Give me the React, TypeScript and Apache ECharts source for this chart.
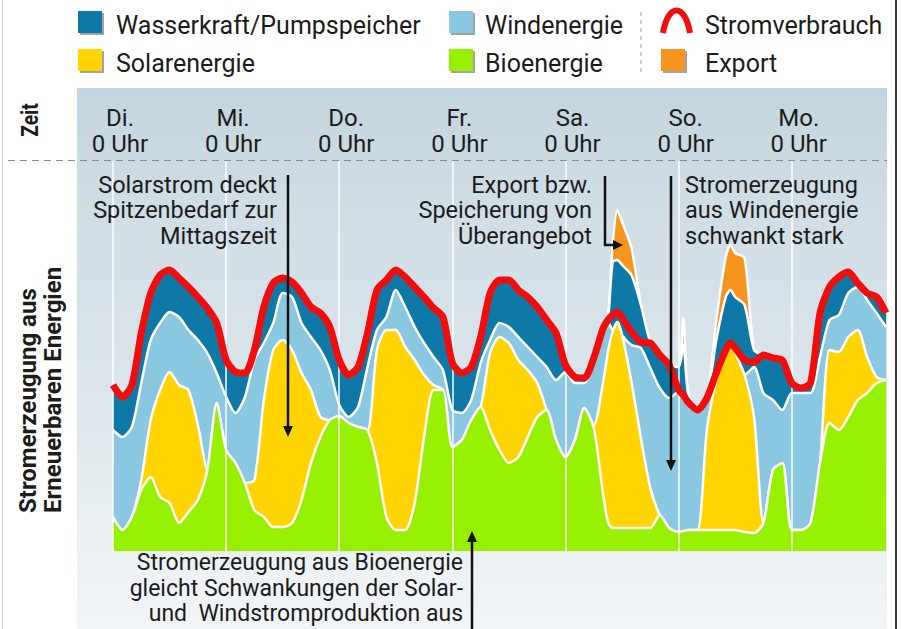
import React, { useEffect, useRef } from "react";
import * as echarts from "echarts";

// ---- data (hours since Tuesday 0:00; values in GW-like units) ----
const hours = [
  0, 2, 4, 6, 8, 10, 12, 14, 16, 18, 20, 22, 24, 26, 28, 30, 32, 34, 36, 38, 40, 42, 44, 46, 48, 50,
  52, 54, 56, 58, 60, 62, 64, 66, 68, 70, 72, 74, 76, 78, 80, 82, 84, 86, 88, 90, 92, 94, 96, 98, 100,
  102, 104, 105, 106, 107, 108, 110, 112, 114, 116, 118, 120, 121, 122, 124, 126, 128, 130, 131, 132,
  134, 136, 138, 140, 142, 144, 146, 148, 150, 152, 154, 156, 158, 160, 162, 164,
];

const bio = [
  6.8, 4.2, 6.8, 12.2, 14.8, 10.8, 9.6, 5.6, 7.8, 10.2, 16.2, 29.6, 20.2, 17.6, 13.6, 8.2, 6.8, 4.8, 4.8,
  5.6, 10.2, 17.6, 22.8, 26.2, 27.0, 25.6, 24.8, 24.2, 17.6, 6.8, 4.2, 4.2, 9.6, 22.8, 32.2, 32.2, 20.8,
  22.2, 26.2, 28.8, 24.2, 20.2, 17.6, 18.8, 22.8, 26.8, 28.2, 22.2, 18.8, 22.2, 28.6, 24.6, 11.2, 5.8,
  4.6, 4.6, 4.6, 4.6, 4.6, 4.6, 7.2, 4.6, 3.8, 4.0, 4.2, 4.2, 4.2, 4.2, 4.2, 4.2, 4.2, 3.8, 3.6, 5.6,
  16.2, 17.6, 4.2, 4.2, 5.6, 17.6, 25.6, 24.2, 26.8, 30.2, 31.6, 33.6, 34.2,
];

const solar = [
  0, 0, 0, 2.0, 11.4, 21.4, 26.2, 27.6, 24.4, 15.0, 0, 0, 0, 0, 0, 6.0, 23.4, 35.4, 37.4, 34.6, 25.4,
  14.6, 4.0, 0, 0, 0, 0, 0, 22.6, 37.4, 40.0, 36.6, 28.6, 12.4, 1.0, 0, 0, 0, 0, 0, 15.4, 22.6, 24.0,
  19.4, 13.4, 6.8, 0, 0, 0, 0, 0, 0.6, 22.6, 34.0, 39.2, 41.2, 38.6, 29.2, 18.0, 8.0, 0, 0, 0, 0, 0, 0,
  20.0, 30.0, 36.0, 37.4, 35.4, 31.4, 23.2, 0, 0, 0, 0, 0, 0, 0, 14.6, 15.6, 16.0, 14.0, 7.2, 1.2, 0,
];

const wind = [
  17.4, 18.6, 18.0, 19.4, 16.0, 13.4, 12.0, 13.6, 12.0, 17.0, 23.4, 6.0, 10.6, 10.0, 17.2, 24.0, 11.4,
  5.4, 9.4, 10.6, 10.0, 10.6, 13.4, 10.0, 2.2, 1.2, 4.0, 12.6, 4.0, 2.6, 8.0, 8.0, 6.6, 6.4, 5.6, 4.0,
  7.4, 5.4, 4.0, 8.8, 2.6, 2.8, 3.2, 4.6, 4.6, 5.2, 8.6, 12.0, 17.0, 11.4, 5.0, 12.4, 10.0, 6.0, 0.4, 0,
  0, 7.4, 18.0, 24.0, 25.4, 26.0, 28.0, 27.2, 25.4, 24.0, 6.0, 0.4, 0, 0, 0, 0, 10.0, 26.0, 14.0, 10.6,
  27.4, 27.4, 26.0, 21.2, 6.0, 7.4, 8.8, 8.6, 11.4, 12.8, 10.6,
];

const hydro = [
  9.0, 8.0, 8.4, 10.0, 9.4, 9.6, 8.4, 7.8, 8.6, 8.6, 9.0, 10.0, 7.4, 8.2, 4.8, 2.0, 7.2, 8.0, 3.0, 3.0,
  6.0, 6.0, 7.4, 8.6, 9.0, 8.4, 8.0, 6.8, 8.0, 7.4, 4.0, 6.0, 8.0, 9.2, 9.8, 10.6, 9.4, 8.0, 6.6, 5.2,
  9.4, 8.6, 9.4, 9.4, 10.0, 10.0, 9.4, 9.4, 1.4, 1.2, 1.0, 1.0, 0.8, 0.4, 13.6, 12.4, 14.0, 14.0, 8.6,
  5.2, 6.6, 6.6, 5.0, 10.0, 2.0, 0, 0.4, 7.6, 10.6, 10.6, 11.2, 14.0, 3.4, 7.6, 8.4, 10.0, 2.0, 1.0,
  2.0, 8.8, 6.6, 7.6, 4.2, 0.8, 1.4, 3.2, 2.8,
];

const exportVals = [
  0, 0, 0, 0, 0, 0, 0, 0, 0, 0, 0, 0, 0, 0, 0, 0, 0, 0, 0, 0, 0, 0, 0, 0, 0, 0, 0, 0, 0, 0, 0, 0, 0, 0,
  0, 0, 0, 0, 0, 0, 0, 0, 0, 0, 0, 0, 0, 0, 0, 0, 0, 0, 0, 0, 3.4, 10.0, 8.6, 5.4, 0, 0, 0, 0, 0, 5.4,
  0, 0, 0, 4.0, 8.0, 9.0, 8.8, 9.4, 0, 0, 0, 0, 0, 0, 0, 0, 0, 0, 0, 0, 0, 0, 0,
];

const consumption = [
  33.2, 30.8, 33.2, 43.6, 51.6, 55.2, 56.2, 54.6, 52.8, 50.8, 48.6, 45.6, 38.2, 35.8, 35.6, 40.2, 48.8,
  53.6, 54.6, 53.8, 51.6, 48.8, 47.6, 44.8, 38.2, 35.2, 36.8, 43.6, 52.2, 54.2, 56.2, 54.8, 52.8, 50.8,
  48.6, 46.8, 37.6, 35.6, 36.8, 42.8, 51.6, 54.2, 54.2, 52.2, 50.8, 48.8, 46.2, 43.6, 37.2, 34.8, 34.6,
  38.6, 44.6, 46.2, 47.2, 47.8, 46.6, 43.8, 41.8, 41.6, 39.2, 37.2, 32.2, 31.2, 29.8, 28.2, 30.6, 35.6,
  40.2, 41.6, 40.6, 38.2, 37.8, 39.2, 38.6, 38.2, 33.6, 32.6, 33.6, 47.6, 52.8, 54.8, 55.8, 53.6, 51.6,
  50.8, 47.6,
];

const dayTicks = [0, 24, 48, 72, 96, 120, 144];
const dayLabels = ["Di.", "Mi.", "Do.", "Fr.", "Sa.", "So.", "Mo."];
const timeSuffix = "0 Uhr";

const NAMES = {
  hydro: "Wasserkraft/Pumpspeicher",
  wind: "Windenergie",
  red: "Stromverbrauch",
  solar: "Solarenergie",
  bio: "Bioenergie",
  export: "Export",
};

const C = {
  bio: "#97f000",
  solar: "#ffd400",
  wind: "#8ac7e0",
  hydro: "#0e79a7",
  export: "#f7941d",
  red: "#f20c0c",
  text: "#1c1c1c",
};

const FONT = "Roboto, 'Noto Sans', 'DejaVu Sans', sans-serif";
const GZ = 60;

function buildOption() {
  // stacking order bottom -> top
  const layers = [
    { name: NAMES.bio, vals: bio, color: C.bio },
    { name: NAMES.solar, vals: solar, color: C.solar },
    { name: NAMES.wind, vals: wind, color: C.wind },
    { name: NAMES.hydro, vals: hydro, color: C.hydro },
    { name: NAMES.export, vals: exportVals, color: C.export },
  ];
  // cumulative tops (the stack), computed from the per-source values
  const running = hours.map(() => 0);
  const stacked = layers.map((l) => {
    const top = running.map((r, i) => Math.round((r + l.vals[i]) * 100) / 100);
    top.forEach((t, i) => (running[i] = t));
    return { ...l, top };
  });
  // draw highest first so that each lower layer lies on top of it
  const areaSeries = stacked
    .map((l, k) => ({
      type: "line",
      name: l.name,
      data: hours.map((h, i) => [h, l.top[i]]),
      showSymbol: false,
      symbol: "none",
      smooth: 0.25,
      z: 2 + (stacked.length - k),
      lineStyle: { color: "#ffffff", width: 2.5 },
      areaStyle: { color: l.color, opacity: 1, origin: "start" },
      itemStyle: { color: l.color },
      emphasis: { disabled: true },
    }))
    .reverse();

  const redSeries = {
    type: "line",
    name: NAMES.red,
    data: hours.map((h, i) => [h, consumption[i]]),
    showSymbol: false,
    symbol: "none",
    smooth: 0.25,
    z: 12,
    lineStyle: { color: C.red, width: 7 },
    itemStyle: { color: C.red },
    emphasis: { disabled: true },
    markLine: {
      silent: true,
      z: 9,
      symbol: ["none", "none"],
      label: { show: false },
      lineStyle: { color: "#ffffff", width: 1.6, type: "solid", opacity: 0.9 },
      data: dayTicks.map((d) => ({ xAxis: d })),
    },
  };

  // legend (custom drawn)
  const legendEntries = [
    { label: NAMES.hydro, color: C.hydro, sx: 78, tx: 116, row: 0 },
    { label: NAMES.solar, color: C.solar, sx: 78, tx: 116, row: 1 },
    { label: NAMES.wind, color: C.wind, sx: 449, tx: 485, row: 0 },
    { label: NAMES.bio, color: C.bio, sx: 449, tx: 485, row: 1 },
    { label: NAMES.export, color: C.export, sx: 661, tx: 705, row: 1 },
  ];
  const rowTop = [11, 49];
  const rowMid = [25, 63.5];
  const g: any[] = [];
  legendEntries.forEach((e) => {
    g.push({
      type: "rect",
      shape: { x: e.sx + 2, y: rowTop[e.row] + 2, width: 24, height: 22 },
      style: { fill: "#a3a3a3" },
    });
    g.push({
      type: "rect",
      shape: { x: e.sx, y: rowTop[e.row], width: 24, height: 22 },
      style: { fill: e.color },
    });
    g.push({
      type: "text",
      x: e.tx,
      y: rowMid[e.row],
      style: { text: e.label, fontSize: 25, fontFamily: FONT, fill: C.text, align: "left", verticalAlign: "middle" },
    });
  });
  g.push({
    type: "bezierCurve",
    shape: { x1: 663, y1: 33, x2: 690, y2: 33, cpx1: 668, cpy1: 3, cpx2: 685, cpy2: 3 },
    style: { stroke: C.red, lineWidth: 6, fill: "transparent" },
  });
  g.push({
    type: "text",
    x: 705,
    y: rowMid[0],
    style: { text: NAMES.red, fontSize: 25, fontFamily: FONT, fill: C.text, align: "left", verticalAlign: "middle" },
  });
  g.push({
    type: "line",
    shape: { x1: 641, y1: 12, x2: 641, y2: 74 },
    style: { stroke: "#9a9a9a", lineWidth: 1, lineDash: [4, 4] },
  });

  // rotated titles
  g.push({
    type: "text",
    x: 30,
    y: 120,
    rotation: Math.PI / 2,
    scaleX: 0.8,
    style: { text: "Zeit", fontSize: 24, fontWeight: "bold", fontFamily: FONT, fill: C.text, align: "center", verticalAlign: "middle" },
  });
  g.push({
    type: "text",
    x: 40.5,
    y: 513,
    rotation: Math.PI / 2,
    style: {
      text: "Stromerzeugung aus\nErneuerbaren Energien",
      fontSize: 24,
      lineHeight: 25,
      fontWeight: "bold",
      fontFamily: FONT,
      fill: C.text,
      align: "left",
      verticalAlign: "middle",
    },
  });

  // annotations
  const ann = (text: string, x: number, y: number, align: string, size: number, lh: number) => ({
    type: "text",
    x,
    y,
    style: { text, fontSize: size, lineHeight: lh, fontFamily: FONT, fill: C.text, align, verticalAlign: "top" },
  });
  g.push(ann("Solarstrom deckt\nSpitzenbedarf zur\nMittagszeit", 277, 172, "right", 23.5, 25.5));
  g.push(ann("Export bzw.\nSpeicherung von\nÜberangebot", 592, 172, "right", 23.5, 25.5));
  g.push(ann("Stromerzeugung\naus Windenergie\nschwankt stark", 685, 172, "left", 23.5, 25.5));
  g.push(ann("Stromerzeugung aus Bioenergie\ngleicht Schwankungen der Solar-\nund  Windstromproduktion aus", 463, 550, "right", 23, 25.5));

  const arrowStyle = { stroke: "#111111", lineWidth: 2.5 };
  g.push({ type: "line", shape: { x1: 288, y1: 175, x2: 288, y2: 428 }, style: arrowStyle });
  g.push({ type: "polygon", shape: { points: [[283, 426], [293, 426], [288, 437]] }, style: { fill: "#111111" } });
  g.push({
    type: "polyline",
    shape: { points: [[605, 176], [605, 245], [615, 245]] },
    style: { ...arrowStyle, fill: "transparent" },
  });
  g.push({ type: "polygon", shape: { points: [[613, 240], [613, 250], [623, 245]] }, style: { fill: "#111111" } });
  g.push({ type: "line", shape: { x1: 671, y1: 176, x2: 671, y2: 462 }, style: arrowStyle });
  g.push({ type: "polygon", shape: { points: [[666, 460], [676, 460], [671, 471]] }, style: { fill: "#111111" } });
  g.push({ type: "line", shape: { x1: 472, y1: 629, x2: 472, y2: 540 }, style: arrowStyle });
  g.push({ type: "polygon", shape: { points: [[467, 542], [477, 542], [472, 531]] }, style: { fill: "#111111" } });

  g.forEach((el) => (el.z = GZ));

  return {
    animation: false,
    backgroundColor: "transparent",
    grid: { left: 113, right: 15, top: 161, bottom: 78 },
    xAxis: {
      type: "value",
      min: 0,
      max: 164,
      interval: 24,
      position: "top",
      axisLine: { show: false },
      axisTick: { show: false },
      splitLine: { show: false },
      axisLabel: {
        showMaxLabel: false,
        formatter: (v: number) => {
          const i = dayTicks.indexOf(v);
          return i >= 0 ? `${dayLabels[i]}\n${timeSuffix}` : "";
        },
        fontSize: 24,
        lineHeight: 26,
        color: C.text,
        fontFamily: FONT,
        margin: 4,
        padding: [0, 0, 0, 14],
      },
    },
    yAxis: { type: "value", min: 0, max: 78, show: false },
    series: [...areaSeries, redSeries],
    graphic: { z: GZ, zlevel: 0, elements: g },
  };
}

export default function App() {
  const ref = useRef<HTMLDivElement>(null);
  useEffect(() => {
    if (!ref.current) return;
    const chart = echarts.init(ref.current, null, { renderer: "svg" });
    chart.setOption(buildOption() as any);
    return () => chart.dispose();
  }, []);
  return (
    <div style={{ position: "fixed", left: 0, top: 0, width: 901, height: 629, background: "#ffffff", overflow: "hidden" }}>
      <div
        style={{
          position: "absolute",
          left: 77,
          top: 88,
          width: 810,
          height: 541,
          background: "linear-gradient(to bottom, #c3d5df 0%, #cfdde5 20%, #dbe5eb 55%, #e9eff2 80%, #f2f5f7 100%)",
        }}
      />
      <div
        style={{
          position: "absolute",
          left: 8,
          top: 160,
          width: 879,
          height: 1,
          background: "repeating-linear-gradient(to right, #7f8d96 0px, #7f8d96 7px, transparent 7px, transparent 12px)",
        }}
      />
      <div style={{ position: "absolute", left: 2, top: 0, width: 1, height: 629, background: "#d0d0d0" }} />
      <div style={{ position: "absolute", left: 895, top: 0, width: 2, height: 629, background: "#3c3c3c" }} />
      <div ref={ref} style={{ position: "absolute", left: 0, top: 0, width: 901, height: 629 }} />
    </div>
  );
}
